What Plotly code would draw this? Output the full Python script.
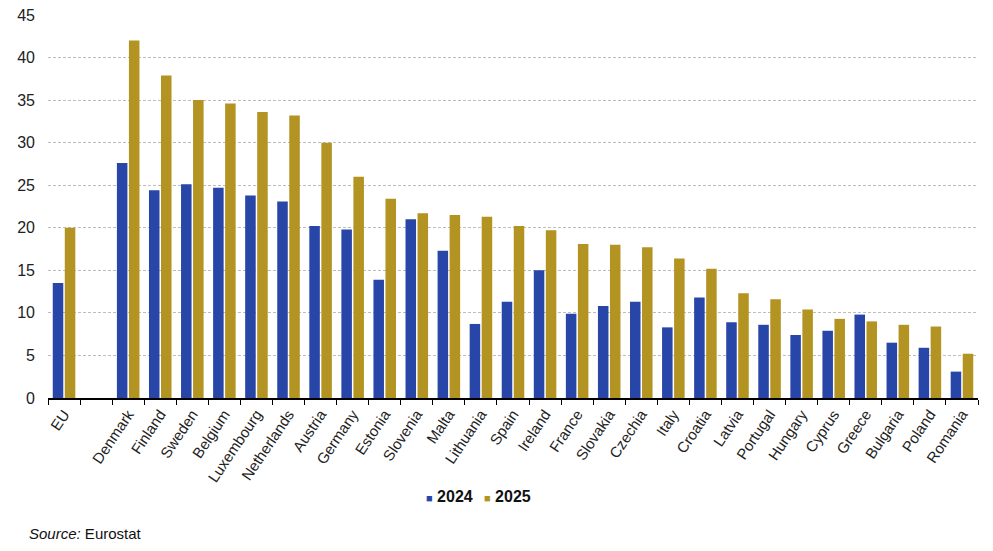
import plotly.graph_objects as go

categories = ["EU", " ", "Denmark", "Finland", "Sweden", "Belgium", "Luxembourg",
              "Netherlands", "Austria", "Germany", "Estonia", "Slovenia", "Malta",
              "Lithuania", "Spain", "Ireland", "France", "Slovakia", "Czechia", "Italy",
              "Croatia", "Latvia", "Portugal", "Hungary", "Cyprus", "Greece",
              "Bulgaria", "Poland", "Romania"]
values_2024 = [13.5, None, 27.6, 24.4, 25.1, 24.7, 23.8, 23.1, 20.2, 19.8, 13.9, 21.0,
               17.3, 8.7, 11.3, 15.0, 9.9, 10.8, 11.3, 8.3, 11.8, 8.9, 8.6, 7.4, 7.9,
               9.8, 6.5, 5.9, 3.1]
values_2025 = [20.0, None, 42.0, 37.9, 35.0, 34.6, 33.6, 33.2, 30.0, 26.0, 23.4, 21.7,
               21.5, 21.3, 20.2, 19.7, 18.1, 18.0, 17.7, 16.4, 15.2, 12.3, 11.6, 10.4, 9.3,
               9.0, 8.6, 8.4, 5.2]
series_names = ["2024", "2025"]
y_ticks = [0, 5, 10, 15, 20, 25, 30, 35, 40, 45]

BLUE = "#2845A8"
GOLD = "#B39322"
COLORS = [BLUE, GOLD]
FONT = "Liberation Sans, Arial, sans-serif"

fig = go.Figure()
for name, vals, col in zip(series_names, [values_2024, values_2025], COLORS):
    fig.add_trace(go.Bar(x=categories, y=vals, name=name,
                         marker=dict(color=col, line=dict(width=0))))

# compact legend drawn as text items (square marker + bold year)
legend_x = [0.4317, 0.4946]
annotations = []
for name, col, lx in zip(series_names, COLORS, legend_x):
    annotations.append(dict(
        text=f'<span style="color:{col};font-size:11px">■</span> <b>{name}</b>',
        xref="paper", yref="paper", x=lx, y=-0.2577, xanchor="center", yanchor="middle",
        showarrow=False, font=dict(family=FONT, size=16, color="#111111")))
annotations.append(dict(text="<i>Source:</i> Eurostat", xref="paper", yref="paper",
                        x=-0.0223, y=-0.3525, xanchor="left", yanchor="middle",
                        showarrow=False, font=dict(family=FONT, size=15, color="#111111")))

# page body has an 8px margin, so the figure is sized to fit inside the window
fig.update_layout(
    width=977, height=535,
    margin=dict(l=40, r=7, t=7, b=145, pad=0, autoexpand=False),
    paper_bgcolor="white", plot_bgcolor="white",
    barmode="group", bargap=0.25, bargroupgap=0.125,
    font=dict(family=FONT, size=15, color="#222222"),
    showlegend=False,
    xaxis=dict(type="category", categoryorder="array", categoryarray=categories,
               tickangle=-56, ticks="outside", tickson="boundaries", ticklen=5,
               tickwidth=1, tickcolor="black", showline=True, linecolor="black",
               linewidth=1.5, showgrid=False, tickfont=dict(size=15, color="#222222"),
               automargin=False, fixedrange=True),
    yaxis=dict(range=[0, 45], tickvals=y_ticks, showgrid=True, gridcolor="#bdbdbd",
               griddash="3px,2px", gridwidth=1, zeroline=False, showline=False,
               ticks="", tickfont=dict(size=16, color="#222222"), ticklabelstandoff=12,
               ticklabeloverflow="allow", automargin=False, fixedrange=True),
    annotations=annotations,
)

fig.write_html("out.html")
